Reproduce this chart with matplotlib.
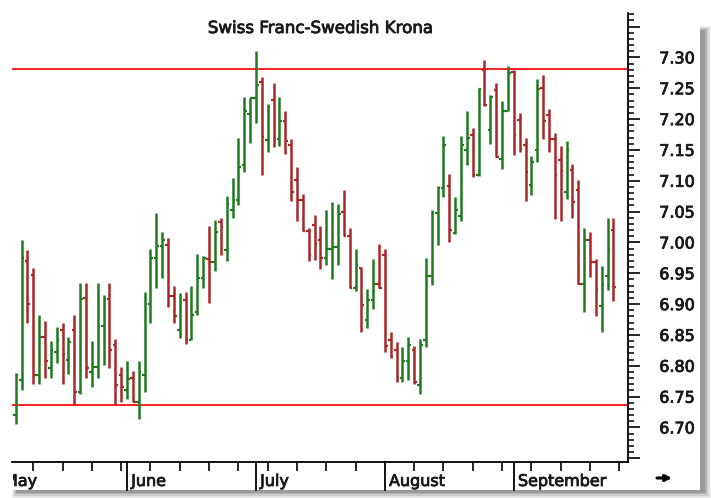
import numpy as np
import matplotlib.pyplot as plt
import matplotlib.patheffects as pe
from matplotlib.patches import Rectangle
from matplotlib.ticker import FixedLocator, MultipleLocator, FuncFormatter
from matplotlib.transforms import Bbox, TransformedBbox

# 1. Daily OHLC values, Swiss Franc - Swedish Krona
opens = [6.720, 6.777, 6.970, 6.947, 6.785, 6.847, 6.796, 6.822, 6.858, 6.809,
         6.858, 6.758, 6.910, 6.790, 6.798, 6.864, 6.908, 6.834, 6.785, 6.761,
         6.780, 6.742, 6.785, 6.900, 6.974, 6.994, 6.996, 6.913, 6.858, 6.907,
         6.842, 6.887, 6.943, 6.973, 6.968, 7.033, 6.988, 7.053, 7.069, 7.125,
         7.209, 7.234, 7.260, 7.166, 7.231, 7.168, 7.197, 7.158, 7.101, 7.069,
         7.018, 7.028, 7.004, 6.975, 6.989, 6.993, 7.050, 7.010, 6.926, 6.959,
         6.874, 6.907, 6.933, 6.980, 6.842, 6.826, 6.781, 6.807, 6.826, 6.769,
         6.842, 6.946, 7.048, 7.089, 7.091, 7.016, 7.043, 7.150, 7.174, 7.109,
         7.279, 7.182, 7.247, 7.136, 7.213, 7.276, 7.198, 7.158, 7.093, 7.150,
         7.251, 7.207, 7.168, 7.134, 7.081, 7.117, 7.085, 6.933, 7.004, 6.968,
         6.897, 6.946, 7.020]
highs = [6.789, 7.004, 6.988, 6.959, 6.882, 6.873, 6.840, 6.863, 6.869, 6.847,
         6.882, 6.934, 6.934, 6.840, 6.934, 6.914, 6.934, 6.843, 6.798, 6.807,
         6.792, 6.807, 6.920, 6.989, 7.047, 7.017, 7.008, 6.929, 6.918, 6.920,
         6.929, 6.981, 6.978, 7.027, 7.036, 7.040, 7.076, 7.105, 7.169, 7.236,
         7.234, 7.310, 7.269, 7.225, 7.258, 7.236, 7.213, 7.168, 7.123, 7.078,
         7.024, 7.044, 7.027, 7.053, 7.066, 7.062, 7.085, 7.023, 6.989, 6.960,
         6.924, 6.973, 6.997, 6.989, 6.855, 6.839, 6.831, 6.846, 6.832, 6.843,
         6.974, 7.053, 7.091, 7.172, 7.111, 7.073, 7.172, 7.213, 7.185, 7.250,
         7.295, 7.239, 7.259, 7.230, 7.286, 7.279, 7.210, 7.169, 7.140, 7.265,
         7.271, 7.217, 7.178, 7.157, 7.165, 7.127, 7.101, 7.024, 7.017, 6.973,
         6.962, 7.040, 7.040]
lows = [6.706, 6.761, 6.870, 6.771, 6.771, 6.780, 6.780, 6.805, 6.771, 6.787,
        6.737, 6.754, 6.780, 6.766, 6.780, 6.801, 6.796, 6.737, 6.742, 6.746,
        6.742, 6.713, 6.758, 6.870, 6.926, 6.942, 6.896, 6.870, 6.845, 6.835,
        6.842, 6.882, 6.926, 6.902, 6.954, 6.980, 6.970, 7.040, 7.061, 7.115,
        7.161, 7.193, 7.109, 7.147, 7.154, 7.157, 7.144, 7.067, 7.035, 7.018,
        6.970, 6.972, 6.957, 6.963, 6.941, 6.963, 7.010, 6.926, 6.922, 6.854,
        6.861, 6.892, 6.926, 6.823, 6.812, 6.774, 6.774, 6.777, 6.771, 6.754,
        6.831, 6.931, 6.996, 7.074, 7.001, 7.014, 7.035, 7.125, 7.106, 7.108,
        7.221, 7.160, 7.138, 7.119, 7.213, 7.142, 7.147, 7.067, 7.077, 7.131,
        7.167, 7.147, 7.038, 7.035, 7.070, 7.040, 6.932, 6.887, 6.944, 6.880,
        6.854, 6.923, 6.905]
closes = [6.785, 6.975, 6.900, 6.785, 6.847, 6.807, 6.826, 6.842, 6.819, 6.839,
          6.758, 6.908, 6.796, 6.798, 6.864, 6.908, 6.826, 6.769, 6.765, 6.778,
          6.742, 6.790, 6.900, 6.974, 6.994, 7.004, 6.913, 6.881, 6.900, 6.842,
          6.882, 6.943, 6.974, 6.968, 7.017, 7.025, 7.062, 7.069, 7.123, 7.213,
          7.234, 7.255, 7.171, 7.220, 7.168, 7.197, 7.164, 7.082, 7.069, 7.018,
          6.980, 6.997, 6.974, 6.989, 6.993, 7.046, 7.010, 6.926, 6.963, 6.899,
          6.907, 6.933, 6.926, 6.832, 6.814, 6.781, 6.807, 6.834, 6.774, 6.834,
          6.946, 7.048, 7.089, 7.158, 7.020, 7.053, 7.158, 7.170, 7.109, 7.248,
          7.223, 7.236, 7.139, 7.213, 7.275, 7.174, 7.151, 7.114, 7.130, 7.249,
          7.197, 7.168, 7.109, 7.116, 7.150, 7.065, 6.932, 7.004, 6.969, 6.923,
          6.931, 6.988, 6.927]

# trading range lines
resistance = 7.2805
support = 6.7365

# month separators (bar index of first trading day) and labels
month_names = ["June", "July", "August", "September"]
month_start = [19, 41, 63, 85]
week_ticks = [i for i in range(3, 104, 5) if i not in month_start]

GREEN = "#1f7a1f"
RED = "#a82828"
TXT = "#1a1a1a"
bold = [pe.withStroke(linewidth=0.6, foreground=TXT)]

# 2. Figure with a white "card" and a soft drop shadow
W, H = 711, 498
fig = plt.figure(figsize=(W / 100, H / 100), dpi=100)
fig.patch.set_facecolor("white")


def fx(px):
    return px / W


def fy(py):
    return 1 - py / H


for k, a in enumerate([0.05, 0.07, 0.09, 0.11, 0.14]):
    x0, y0, x1, y1 = 12 + k, 26 + k, 711 - 1.5 * k, 498 - 1.2 * k
    fig.add_artist(Rectangle((fx(x0), fy(y1)), (x1 - x0) / W, (y1 - y0) / H,
                             transform=fig.transFigure, facecolor="black",
                             alpha=a, lw=0, zorder=-10))
fig.add_artist(Rectangle((0, fy(490)), 700 / W, 490 / H, transform=fig.transFigure,
                         facecolor="white", lw=0, zorder=-5))

ax = fig.add_axes([fx(12), fy(462), 616 / W, 449 / H])
ax.set_facecolor("none")

# 3. OHLC bars
x = np.arange(len(opens))
colors = [GREEN if c >= o else RED for o, c in zip(opens, closes)]
ax.vlines(x, lows, highs, colors=colors, lw=1.8, zorder=3)
ax.hlines(opens, x - 0.45, x, colors=colors, lw=1.6, zorder=3)
ax.hlines(closes, x, x + 0.45, colors=colors, lw=1.6, zorder=3)

ax.axhline(resistance, color="#ff1f1f", lw=1.4, zorder=2)
ax.axhline(support, color="#ff1f1f", lw=1.4, zorder=2)

ax.set_xlim(-0.63, 104.49)
ax.set_ylim(6.644, 7.372)

# 4. Axes styling
for s in ["left", "top"]:
    ax.spines[s].set_visible(False)
for s in ["right", "bottom"]:
    ax.spines[s].set_linewidth(1.3)

ax.yaxis.tick_right()
ax.yaxis.set_major_locator(FixedLocator(np.arange(6.65, 7.351, 0.05)))
ax.yaxis.set_minor_locator(MultipleLocator(0.01))
ax.yaxis.set_major_formatter(FuncFormatter(lambda v, p: "%.2f" % v if 6.69 < v < 7.31 else ""))
ax.tick_params(axis="y", which="major", length=8.5, width=1.2, pad=14,
               labelsize=11.5, labelcolor=TXT)
ax.tick_params(axis="y", which="minor", length=4, width=1.1)
for t in ax.yaxis.get_major_ticks():
    t.label2.set_path_effects(bold)

ax.set_xticks(week_ticks)
ax.set_xticklabels([])
ax.tick_params(axis="x", length=6.3, width=1.2)

xt = ax.get_xaxis_transform()
for i, name in zip(month_start, month_names):
    ax.plot([i, i], [0, -28 / 449], transform=xt, color="black", lw=1.3, clip_on=False)
    ax.annotate(name, xy=(i, 0), xycoords=xt, xytext=(3, -14), textcoords="offset points",
                ha="left", va="center", fontsize=11.5, color=TXT, path_effects=bold)

# May only partly visible at the left edge
may = ax.annotate("May", xy=(-2.7, 0), xycoords=xt, xytext=(3, -14), textcoords="offset points",
                  ha="left", va="center", fontsize=11.5, color=TXT, path_effects=bold)
may.set_clip_on(True)
may.set_clip_box(TransformedBbox(Bbox([[fx(13), 0], [1, 1]]), fig.transFigure))

fig.text(fx(320), fy(28), "Swiss Franc-Swedish Krona", ha="center", va="center",
         fontsize=12, color=TXT, path_effects=bold)

# small scroll arrow in the lower right corner
fig.add_artist(plt.Annotation("", xy=(fx(672), fy(478)), xytext=(fx(657), fy(478)),
                              xycoords=fig.transFigure, textcoords=fig.transFigure,
                              arrowprops=dict(arrowstyle="-|>", color="black", lw=2.2,
                                              mutation_scale=9, shrinkA=0, shrinkB=0)))

plt.savefig("out.png", dpi=100)
plt.close()
